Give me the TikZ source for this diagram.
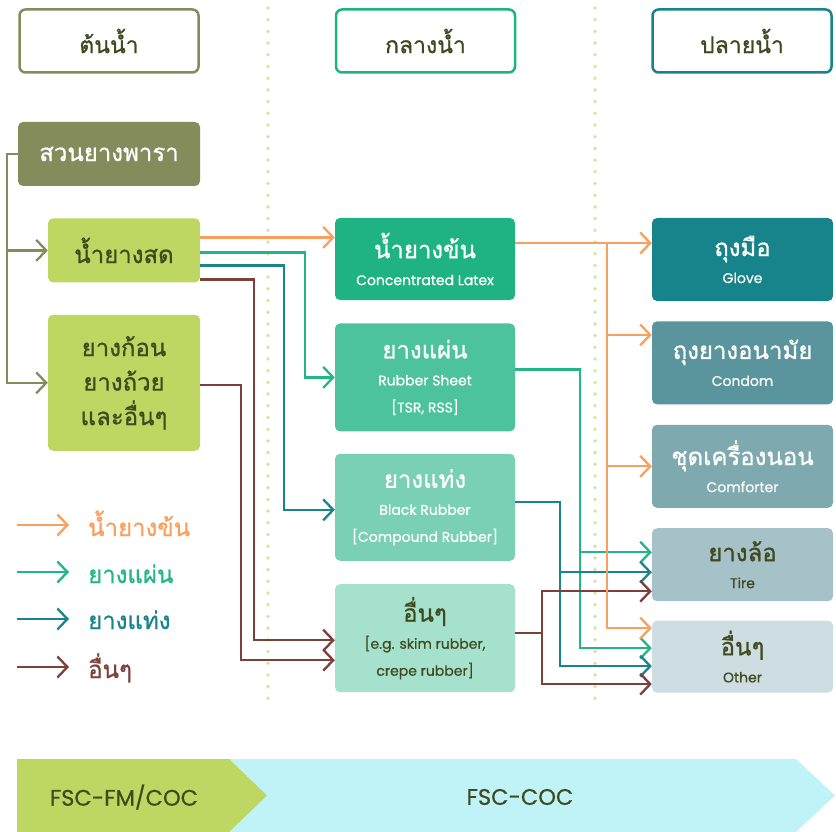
\documentclass[tikz,border=0pt]{standalone}
\usepackage{fontspec}
\setmainfont{Poppins}[FakeBold=0.6]
\newfontfamily\thaifont[Script=Thai, FakeBold=0.9]{Loma}
\usepackage{tikz}
\usetikzlibrary{positioning, arrows.meta, calc}
\definecolor{farmc}{HTML}{848C5C}
\definecolor{rawc}{HTML}{BDD762}
\definecolor{ink}{HTML}{3F4A1E}
\definecolor{concc}{HTML}{1FB384}
\definecolor{sheetc}{HTML}{4CC39D}
\definecolor{blockc}{HTML}{7AD0B4}
\definecolor{othc}{HTML}{A6E1CE}
\definecolor{glovec}{HTML}{17848B}
\definecolor{condomc}{HTML}{5A949C}
\definecolor{comfc}{HTML}{7EA9AF}
\definecolor{tirec}{HTML}{A6C2C8}
\definecolor{outc}{HTML}{CEDDE1}
\definecolor{orangec}{HTML}{F9A05E}
\definecolor{greenc}{HTML}{22B58A}
\definecolor{tealc}{HTML}{1A848C}
\definecolor{brownc}{HTML}{7B4039}
\definecolor{dotc}{HTML}{D3E59A}
\definecolor{fscc}{HTML}{BFF3F7}
\newcommand{\thname}[1]{{\thaifont\fontsize{24}{31}\selectfont #1}}
\newcommand{\ensub}[1]{{\fontsize{14}{27}\selectfont #1}}
\tikzset{
  hdr/.style     = {rectangle, rounded corners=6pt, draw=#1, line width=2.5pt,
                    fill=white, minimum width=179pt, minimum height=63pt,
                    text=ink, font=\thaifont\fontsize{23}{26}\selectfont},
  src/.style     = {rectangle, rounded corners=5pt, fill=farmc, text=white,
                    minimum width=182pt, minimum height=64pt,
                    font=\thaifont\fontsize{24}{34}\selectfont},
  raw/.style     = {rectangle, rounded corners=5pt, fill=rawc, text=ink,
                    minimum width=152pt, minimum height=64pt, align=center,
                    font=\thaifont\fontsize{24}{34.5}\selectfont},
  midbox/.style  = {rectangle, rounded corners=5pt, text=white,
                    minimum width=180pt, align=center,
                    font=\fontsize{14}{27}\selectfont},
  outbox/.style  = {rectangle, rounded corners=5pt, text=white,
                    minimum width=181pt, align=center,
                    font=\fontsize{14}{27}\selectfont},
  legend/.style  = {anchor=base west, inner sep=0pt,
                    font=\thaifont\fontsize{24}{30}\selectfont},
  fsc/.style     = {text=ink, font=\fontsize{22.5}{26}\selectfont},
  guide/.style   = {draw=dotc, line width=3.8pt, line cap=round,
                    dash pattern=on 0pt off 11.7pt},
  link/.style    = {line width=2.3pt, -{Straight Barb[length=10pt,width=21pt]}},
  farmar/.style  = {link, draw=farmc},
  latexar/.style = {link, draw=orangec},
  sheetar/.style = {link, draw=greenc},
  blockar/.style = {link, draw=tealc},
  otherar/.style = {link, draw=brownc},
}
\begin{document}
\begin{tikzpicture}[x=1pt, y=-1pt]
  \useasboundingbox (0,0) rectangle (836,832);

  % stage guides
  \draw[guide] (268,8) -- (268,700);
  \draw[guide] (595,8) -- (595,700);

  % headers
  \node[hdr=farmc] (hup) at (109,41) {ต้นน้ำ};
  \node[hdr=concc] (hmid) at (425.5,41) {กลางน้ำ};
  \node[hdr=glovec] (hdown) at (742,41) {ปลายน้ำ};

  % upstream
  \node[src] (garden) at (109,154) {สวนยางพารา};
  \node[raw, below left=32pt and 0pt of garden.south east] (fresh) {น้ำยางสด};
  \node[raw, below=32pt of fresh, minimum height=136pt] (lump) {ยางก้อน\\ยางถ้วย\\และอื่นๆ};

  % midstream
  \node[midbox, fill=concc, minimum height=82pt] (conc) at (425,259)
       {\thname{น้ำยางข้น}\\ \ensub{Concentrated Latex}};
  \node[midbox, fill=sheetc, minimum height=108pt, below=23pt of conc] (sheet)
       {\thname{ยางแผ่น}\\ \ensub{Rubber Sheet}\\ \ensub{[TSR, RSS]}};
  \node[midbox, fill=blockc, minimum height=107pt, below=22pt of sheet] (block)
       {\thname{ยางแท่ง}\\ \ensub{Black Rubber}\\ \ensub{[Compound Rubber]}};
  \node[midbox, fill=othc, text=ink, minimum height=108pt, below=23pt of block] (othermid)
       {\thname{อื่นๆ}\\ \ensub{[e.g. skim rubber,}\\ \ensub{crepe rubber]}};

  % downstream
  \node[outbox, fill=glovec, minimum height=83pt] (glove) at (742.5,259.5)
       {\thname{ถุงมือ}\\ \ensub{Glove}};
  \node[outbox, fill=condomc, minimum height=83pt, below=20pt of glove] (condom)
       {\thname{ถุงยางอนามัย}\\ \ensub{Condom}};
  \node[outbox, fill=comfc, minimum height=83pt, below=20pt of condom] (comfort)
       {\thname{ชุดเครื่องนอน}\\ \ensub{Comforter}};
  \node[outbox, fill=tirec, text=ink, minimum height=73pt, below=20pt of comfort] (tire)
       {\thname{ยางล้อ}\\ \ensub{Tire}};
  \node[outbox, fill=outc, text=ink, minimum height=72pt, below=19pt of tire] (otherout)
       {\thname{อื่นๆ}\\ \ensub{Other}};

  % garden to raw products
  \coordinate (trunk) at ($(lump.west)+(-41,0)$);
  \draw[farmar] (garden.west) -| (trunk) -- (lump.west);
  \draw[farmar] (trunk) |- (fresh.west);

  % raw to midstream
  \coordinate (f1) at ($(fresh.east)+(0,-13)$);
  \coordinate (f2) at ($(fresh.east)+(0,2)$);
  \coordinate (f3) at ($(fresh.east)+(0,15)$);
  \coordinate (f4) at ($(fresh.east)+(0,29)$);
  \coordinate (l1) at ($(lump.east)+(0,2)$);
  \draw[latexar] (f1) -- (f1 -| conc.west);
  \draw[sheetar] (f2) -| ($(sheet.west)+(-30,0)$) -- (sheet.west);
  \draw[blockar] (f3) -| ($(block.west)+(-51,2.5)$) -- ($(block.west)+(0,2.5)$);
  \draw[otherar] (f4) -| ($(othermid.west)+(-81,2)$) -- ($(othermid.west)+(0,2)$);
  \draw[otherar] (l1) -| ($(othermid.west)+(-94,22)$) -- ($(othermid.west)+(0,22)$);

  % midstream to downstream
  \coordinate (c1) at ($(conc.east)+(0,-16)$);
  \coordinate (s1) at ($(sheet.east)+(0,-8)$);
  \coordinate (b1) at ($(block.east)+(0,-5.5)$);
  \coordinate (o1) at ($(othermid.east)+(0,-5)$);
  \draw[sheetar] (s1) -| ($(s1)+(65,0)$) |- ($(tire.west)+(0,-12.5)$);
  \draw[sheetar] (s1) -| ($(s1)+(65,0)$) |- ($(otherout.west)+(0,-8.5)$);
  \draw[blockar] (b1) -| ($(b1)+(45,0)$) |- ($(tire.west)+(0,7.5)$);
  \draw[blockar] (b1) -| ($(b1)+(45,0)$) |- ($(otherout.west)+(0,9.5)$);
  \draw[otherar] (o1) -| ($(o1)+(27,0)$) |- ($(tire.west)+(0,26.5)$);
  \draw[otherar] (o1) -| ($(o1)+(27,0)$) |- ($(otherout.west)+(0,27.5)$);
  \draw[latexar] (c1) -- (c1 -| glove.west);
  \draw[latexar] ($(c1)+(92,0)$) |- ($(condom.west)+(0,-28)$);
  \draw[latexar] ($(c1)+(92,0)$) |- (comfort.west);
  \draw[latexar] ($(c1)+(92,0)$) |- ($(otherout.west)+(0,-28.5)$);

  % legend
  \node[legend, text=orangec] (lg1) at (88,536) {น้ำยางข้น};
  \node[legend, text=greenc] (lg2) at (88,583) {ยางแผ่น};
  \node[legend, text=tealc] (lg3) at (88,629) {ยางแท่ง};
  \node[legend, text=brownc] (lg4) at (88,678) {อื่นๆ};
  \coordinate (lg1s) at ($(lg1.base west)+(-71,-11)$);
  \coordinate (lg2s) at ($(lg2.base west)+(-71,-11)$);
  \coordinate (lg3s) at ($(lg3.base west)+(-71,-10)$);
  \coordinate (lg4s) at ($(lg4.base west)+(-71,-11)$);
  \draw[latexar, shorten >=19pt] (lg1s) -- (lg1s -| lg1.west);
  \draw[sheetar, shorten >=19pt] (lg2s) -- (lg2s -| lg2.west);
  \draw[blockar, shorten >=19pt] (lg3s) -- (lg3s -| lg3.west);
  \draw[otherar, shorten >=19pt] (lg4s) -- (lg4s -| lg4.west);

  % certification bar
  \fill[fscc] (229,759) -- (796,759) -- (835,795.5) -- (796,832) -- (229,832) -- cycle;
  \fill[rawc] (17,759) -- (229,759) -- (267,795.5) -- (229,832) -- (17,832) -- cycle;
  \node[fsc] (fm) at (124,797) {FSC-FM/COC};
  \node[fsc] (coc) at (520,797) {FSC-COC};

\end{tikzpicture}
\end{document}
